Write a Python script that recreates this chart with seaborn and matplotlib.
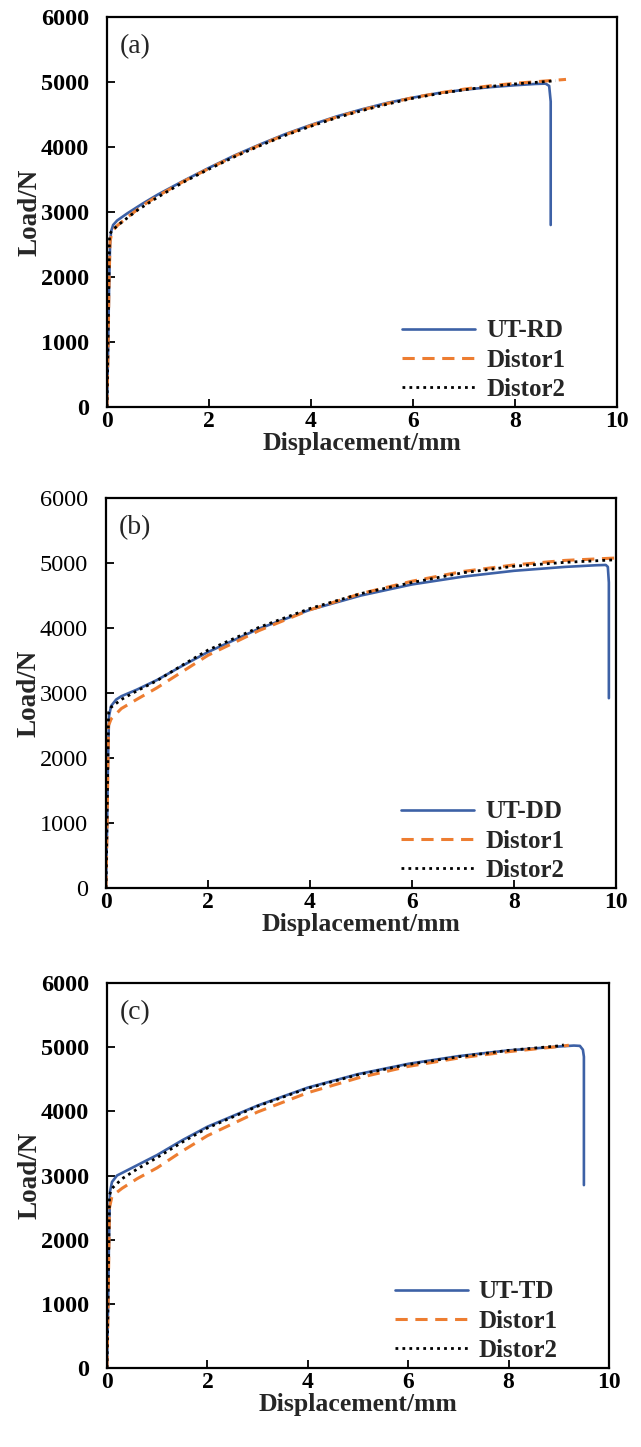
import matplotlib
matplotlib.use("Agg")
import matplotlib.pyplot as plt
import seaborn as sns
import pandas as pd

sns.set_theme(style="white")
plt.rcParams['font.family'] = ['Liberation Serif', 'DejaVu Serif']

# ---------------- data ----------------
# Panel (a)
a_ut_x = [0, 0.02, 0.04, 0.06, 0.08, 0.12, 0.2, 0.4, 0.7, 1.0, 1.5, 2.0, 2.5, 3.0, 3.5, 4.0, 4.5, 5.0,
          5.5, 6.0, 6.5, 7.0, 7.5, 8.0, 8.4, 8.6, 8.67, 8.7, 8.7]
a_ut_y = [0, 800, 1800, 2500, 2700, 2800, 2870, 2980, 3130, 3270, 3480, 3680, 3870, 4040, 4200, 4340, 4470, 4580,
          4680, 4760, 4830, 4880, 4920, 4950, 4970, 4975, 4940, 4700, 2800]
a_d1_x = [0, 0.02, 0.04, 0.06, 0.1, 0.2, 0.4, 0.7, 1.0, 1.5, 2.0, 2.5, 3.0, 3.5, 4.0, 4.5, 5.0, 5.5, 6.0,
          6.5, 7.0, 7.5, 8.0, 8.5, 9.0]
a_d1_y = [0, 900, 1900, 2550, 2700, 2790, 2920, 3100, 3250, 3470, 3670, 3860, 4030, 4190, 4330, 4460, 4570, 4670, 4760,
          4830, 4890, 4940, 4980, 5010, 5040]
a_d2_x = [0, 0.02, 0.04, 0.05, 0.1, 0.3, 0.6, 1.0, 1.5, 2.0, 2.5, 3.0, 3.5, 4.0, 4.5, 5.0, 5.5, 6.0,
          6.5, 7.0, 7.5, 8.0, 8.5, 8.8]
a_d2_y = [0, 1000, 2100, 2650, 2720, 2850, 3030, 3230, 3460, 3660, 3850, 4020, 4180, 4320, 4450, 4560, 4660, 4750,
          4820, 4880, 4930, 4970, 5000, 5020]

# Panel (b)
b_ut_x = [0, 0.02, 0.04, 0.06, 0.1, 0.2, 0.3, 0.6, 1.0, 1.5, 2.0, 3.0, 4.0, 5.0, 6.0, 7.0, 8.0, 9.0,
          9.6, 9.8, 9.84, 9.86, 9.86]
b_ut_y = [0, 900, 2000, 2650, 2800, 2900, 2950, 3050, 3200, 3420, 3630, 3990, 4280, 4500, 4670, 4790, 4880, 4940,
          4965, 4970, 4940, 4700, 2920]
b_d1_x = [0, 0.02, 0.04, 0.05, 0.1, 0.3, 0.6, 1.0, 1.5, 2.0, 3.0, 4.0, 5.0, 6.0, 7.0, 8.0, 9.0, 10.0]
b_d1_y = [0, 900, 2000, 2500, 2600, 2760, 2900, 3080, 3330, 3580, 3960, 4280, 4530, 4720, 4870, 4970, 5040, 5077]
b_d2_x = [0, 0.02, 0.04, 0.05, 0.1, 0.3, 0.6, 1.0, 1.5, 2.0, 3.0, 4.0, 5.0, 6.0, 7.0, 8.0, 9.0, 10.0]
b_d2_y = [0, 1000, 2200, 2700, 2780, 2900, 3030, 3190, 3430, 3660, 4010, 4300, 4530, 4700, 4850, 4950, 5010, 5050]

# Panel (c)
c_ut_x = [0, 0.02, 0.04, 0.06, 0.1, 0.2, 0.5, 1.0, 1.5, 2.0, 3.0, 4.0, 5.0, 6.0, 7.0, 8.0, 9.0, 9.3,
          9.42, 9.48, 9.5, 9.5]
c_ut_y = [0, 900, 2000, 2750, 2900, 3000, 3120, 3320, 3550, 3760, 4090, 4370, 4580, 4740, 4860, 4950, 5010, 5025,
          5020, 4960, 4850, 2850]
c_d1_x = [0, 0.02, 0.04, 0.05, 0.1, 0.3, 0.6, 1.0, 1.5, 2.0, 3.0, 4.0, 5.0, 6.0, 7.0, 8.0, 9.0, 9.2]
c_d1_y = [0, 900, 2000, 2500, 2680, 2800, 2950, 3120, 3380, 3620, 3990, 4290, 4520, 4700, 4830, 4930, 5010, 5030]
c_d2_x = [0, 0.02, 0.04, 0.05, 0.1, 0.3, 0.6, 1.0, 1.5, 2.0, 3.0, 4.0, 5.0, 6.0, 7.0, 8.0, 9.0, 9.1]
c_d2_y = [0, 1000, 2200, 2700, 2800, 2950, 3100, 3280, 3520, 3740, 4080, 4360, 4570, 4730, 4850, 4950, 5020, 5035]

panel_tags = ["(a)", "(b)", "(c)"]
ut_names = ["UT-RD", "UT-DD", "UT-TD"]
sim_names = ["Distor1", "Distor2"]
x_ticks = [0, 2, 4, 6, 8, 10]
y_ticks = [0, 1000, 2000, 3000, 4000, 5000, 6000]
x_label = "Displacement/mm"
y_label = "Load/N"

panels = [
    [(a_ut_x, a_ut_y), (a_d1_x, a_d1_y), (a_d2_x, a_d2_y)],
    [(b_ut_x, b_ut_y), (b_d1_x, b_d1_y), (b_d2_x, b_d2_y)],
    [(c_ut_x, c_ut_y), (c_d1_x, c_d1_y), (c_d2_x, c_d2_y)],
]

# ---------------- figure ----------------
W, H = 641, 1447
fig = plt.figure(figsize=(W / 100, H / 100), dpi=100)
boxes = [(107, 17, 617, 407), (106, 498, 616, 888), (107, 983, 609, 1368)]

colors = ["#3D61A6", "#ED7D31", "#000000"]
styles = [dict(linestyle="-", linewidth=1.9),
          dict(linestyle=(0, (4, 2.5)), linewidth=2.2),
          dict(linestyle=(0, (1, 1.5)), linewidth=2.0)]
ytick_weight = ["bold", "normal", "bold"]

for i, (box, curves) in enumerate(zip(boxes, panels)):
    l, t, r, b = box
    ax = fig.add_axes([l / W, 1 - b / H, (r - l) / W, (b - t) / H])
    names = [ut_names[i]] + sim_names
    for j, ((xs, ys), name) in enumerate(zip(curves, names)):
        df = pd.DataFrame({"x": xs, "y": ys})
        sns.lineplot(data=df, x="x", y="y", ax=ax, sort=False, estimator=None,
                     color=colors[j], label=name, **styles[j])
    ax.set_xlim(0, 10)
    ax.set_ylim(0, 6000)
    ax.set_xticks(x_ticks)
    ax.set_yticks(y_ticks)
    ax.set_xticklabels([str(v) for v in x_ticks], fontsize=17, fontweight="bold")
    ax.set_yticklabels([str(v) for v in y_ticks], fontsize=17.5, fontweight=ytick_weight[i])
    ax.tick_params(axis="y", direction="in", length=6, width=1.3, left=True, right=False,
                   pad=13, colors="black")
    ax.tick_params(axis="x", direction="in", length=6, width=1.3, bottom=True, top=False,
                   pad=3, colors="black")
    for s in ax.spines.values():
        s.set_linewidth(1.6)
        s.set_color("black")
    ax.set_xlabel(x_label, fontsize=18.5, fontweight="bold", labelpad=0)
    ax.set_ylabel(y_label, fontsize=19.5, fontweight="bold", labelpad=-1)
    ax.text(0.025, 0.955, panel_tags[i], transform=ax.transAxes, fontsize=20,
            va="top", ha="left")
    ax.legend(loc="lower right", frameon=False, handlelength=2.9,
              prop={"family": "Liberation Serif", "weight": "bold", "size": 18},
              borderaxespad=0.0, labelspacing=0.25, handletextpad=0.45,
              bbox_to_anchor=(0.918, -0.01))
    ax.grid(False)

fig.savefig("out.png", dpi=100)
